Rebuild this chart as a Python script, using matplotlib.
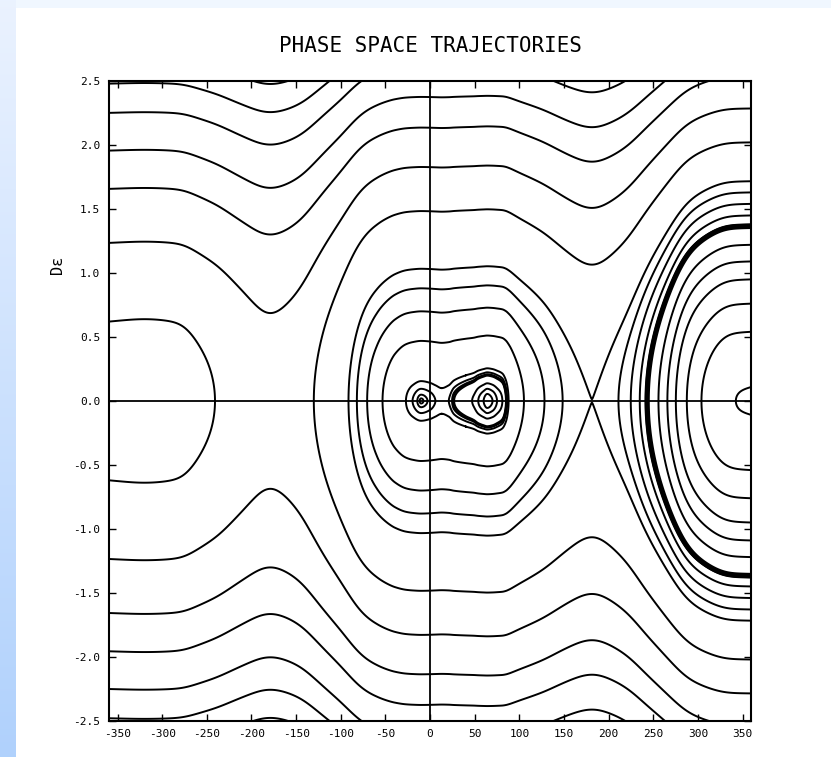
import numpy as np
import matplotlib
matplotlib.use("Agg")
import matplotlib.pyplot as plt

plt.rcParams["contour.negative_linestyle"] = "solid"

pot_x = [-360, -320, -280, -257, -240, -212, -180, -145, -130, -120, -110, -100,
         -92, -84, -72, -54, -40, -27, -19.6, -10, 0, 6, 13, 21, 27, 40, 49, 54,
         60, 64, 70, 75, 81, 85, 88, 105, 129, 148, 182, 212, 226, 235, 243, 256,
         266, 275, 286, 303, 336, 360]
pot_v = [0.908, 0.895, 0.914, 1.016, 1.10, 1.29, 1.45, 1.29, 1.10, 0.96, 0.82, 0.68,
         0.55, 0.40, 0.245, 0.11, 0.045, 0.012, 0.0045, 0.0, 0.002, 0.0045, 0.007,
         0.0045, -0.001, -0.008, -0.012, -0.016, -0.019, -0.0205, -0.019, -0.016,
         -0.011, -0.001, 0.012, 0.11, 0.245, 0.387, 0.551, 0.387, 0.245, 0.11, -0.01,
         -0.196, -0.346, -0.489, -0.651, -0.794, -0.934, -0.94]

# energy of each drawn trajectory (the separatrix one goes through the X point at 180)
levels_outer = [1.10, 1.67, 2.28, 2.82, 3.44, 3.98, 4.50]
levels_mid = [0.11, 0.245, 0.387]
levels_right = [-0.934, -0.794, -0.651, -0.489, -0.346, -0.196]
levels_core = [-0.019, -0.016, -0.011, -0.001, 0.0002, 0.0012, 0.0045, 0.012]
level_thick = [-0.01]

xticks = list(range(-350, 351, 50))
yticks = [-2.5, -2.0, -1.5, -1.0, -0.5, 0.0, 0.5, 1.0, 1.5, 2.0, 2.5]


def pchip(xk, yk, x):
    xk = np.asarray(xk, float)
    yk = np.asarray(yk, float)
    h = np.diff(xk)
    d = np.diff(yk) / h
    m = np.zeros_like(yk)
    for k in range(1, len(xk) - 1):
        if d[k - 1] * d[k] > 0:
            w1 = 2 * h[k] + h[k - 1]
            w2 = h[k] + 2 * h[k - 1]
            m[k] = (w1 + w2) / (w1 / d[k - 1] + w2 / d[k])
    m[0] = d[0]
    m[-1] = d[-1]
    i = np.clip(np.searchsorted(xk, x) - 1, 0, len(xk) - 2)
    t = (x - xk[i]) / h[i]
    h00 = 2 * t**3 - 3 * t**2 + 1
    h10 = t**3 - 2 * t**2 + t
    h01 = -2 * t**3 + 3 * t**2
    h11 = t**3 - t**2
    return h00 * yk[i] + h10 * h[i] * m[i] + h01 * yk[i + 1] + h11 * h[i] * m[i + 1]


step = 0.25
phi = np.arange(-360, 360 + step / 2, step)
de = np.linspace(-2.5, 2.5, 2001)

# potential along phase; smoothed away from the fine structure near the centre
v_raw = pchip(pot_x, pot_v, phi)
sig = 9.0 / step
kx = np.arange(-int(4 * sig), int(4 * sig) + 1)
kern = np.exp(-0.5 * (kx / sig) ** 2)
kern /= kern.sum()
v_pad = np.pad(v_raw, len(kx) // 2, mode="reflect", reflect_type="odd")
v_smooth = np.convolve(v_pad, kern, mode="valid")
w = np.clip((phi + 60) / 20, 0, 1) * np.clip((110 - phi) / 20, 0, 1)
v = w * v_raw + (1 - w) * v_smooth

near_x = (phi > 150) & (phi < 215)
levels_sep = [v[near_x].max() + 1e-4]

PHI, DE = np.meshgrid(phi, de)
H = DE**2 / 2 + v[None, :]

fig = plt.figure(figsize=(8.31, 7.57), dpi=100)
fig.patch.set_facecolor("white")

# pale blue page decoration
strip = fig.add_axes([0, 0, 16 / 831, 1])
grad = np.linspace(0, 1, 256)[:, None, None]
top_c = np.array([0.92, 0.95, 1.0])
bot_c = np.array([0.69, 0.82, 0.99])
strip.imshow(top_c * (1 - grad) + bot_c * grad, aspect="auto")
strip.axis("off")
band = fig.add_axes([16 / 831, 1 - 8 / 757, 1 - 16 / 831, 8 / 757])
band.set_facecolor((0.94, 0.97, 1.0))
band.set_xticks([])
band.set_yticks([])
for s in band.spines.values():
    s.set_visible(False)

ax = fig.add_axes([0.1307, 0.0476, 0.7736, 0.8455])
lw = 1.4
for lev in [levels_outer, levels_sep, levels_mid, levels_right, levels_core]:
    ax.contour(PHI, DE, H, levels=sorted(lev), colors="black", linewidths=lw)
ax.contour(PHI, DE, np.where(PHI > 150, H, np.nan), levels=level_thick,
           colors="black", linewidths=3.8)

ax.axhline(0, color="black", lw=1.3)
ax.axvline(0, color="black", lw=1.3)
ax.set_xlim(-360, 360)
ax.set_ylim(-2.5, 2.5)
ax.set_xticks(xticks)
ax.set_xticklabels([str(t) for t in xticks], family="DejaVu Sans Mono", fontsize=8)
ax.set_yticks(yticks)
ax.set_yticklabels(["%.1f" % t for t in yticks], family="DejaVu Sans Mono", fontsize=8)
ax.tick_params(direction="in", top=True, right=True, length=5, width=1, pad=6)
for s in ax.spines.values():
    s.set_linewidth(1.5)

fig.text(0.5175, 1 - 46 / 757, "PHASE SPACE TRAJECTORIES", ha="center", va="center",
         family="DejaVu Sans Mono", fontsize=15)
fig.text(0.069, 1 - 265 / 757, "D\u03b5", ha="center", va="center", rotation=90,
         family="DejaVu Sans Mono", fontsize=11)

fig.savefig("out.png", dpi=100)
